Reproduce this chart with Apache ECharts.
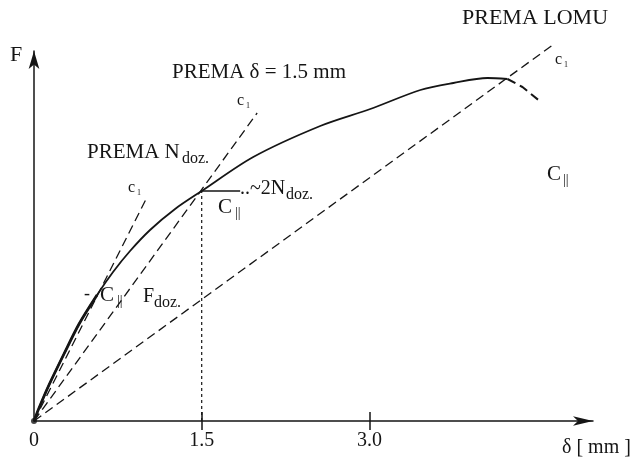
<!DOCTYPE html>
<html><head><meta charset="utf-8">
<script src="https://cdn.jsdelivr.net/npm/echarts@6/dist/echarts.min.js"></script>
<style>html,body{margin:0;padding:0;background:#fff}#c{width:638px;height:461px}</style>
</head><body><div id="c"></div>
<script>
// ---- data (delta in mm, F in arbitrary units) ----
const loadCurve = [[0,0],[0.045,0.13],[0.134,0.36],[0.268,0.67],[0.403,0.97],[0.564,1.26],[0.707,1.49],[0.859,1.70],[1.038,1.91],[1.262,2.12],[1.5,2.30],[1.961,2.64],[2.56,2.95],[3.008,3.12],[3.456,3.31],[3.751,3.38],[4.056,3.43],[4.235,3.42]];
const postPeak = [[4.235,3.42],[4.369,3.34],[4.512,3.21]];
const initialPart = loadCurve.slice(0,6);
const secantFdoz = [[0,0],[1.012,2.24]];
const secant15 = [[0,0],[1.996,3.08]];
const secantLom = [[0,0],[4.664,3.78]];
const ndozDrop = [[1.5,0],[1.5,2.30]];
const ndozLevel = [[1.5,2.30],[1.844,2.30]];
const xTickValues = [0,1.5,3.0];
const xTickLabels = ['0','1.5','3.0'];
const xMarkTicks = [1.5,3.0];

const ink = '#151515';
const serif = 'Liberation Serif';
const chart = echarts.init(document.getElementById('c'), null, {renderer:'canvas'});

function dashed(data, w){
  return {type:'line', data, showSymbol:false, symbol:'none', clip:false, silent:true,
    lineStyle:{color:ink, width:w||1.3, type:[9,5]}};
}
function txt(t, x, y, size){
  return {type:'text', left:x, top:y - size*0.6, silent:true,
    style:{text:t, fill:ink, font: size + 'px "' + serif + '"'}};
}
const texts = [
  txt('F', 10, 57, 22),
  txt('PREMA LOMU', 462, 20, 22),
  txt('PREMA \u03B4 = 1.5 mm', 172, 75, 21),
  txt('c', 237, 102, 16), txt('1', 246, 107, 8),
  txt('PREMA N', 87, 155, 21), txt('doz.', 182, 160, 16),
  txt('c', 128, 189, 16), txt('1', 137, 194, 8),
  txt('..~2N', 240, 191, 20), txt('doz.', 286, 196, 16),
  txt('C', 218, 210, 21), txt('||', 235, 215, 14),
  txt('-', 84, 296, 18), txt('C', 100, 298, 21), txt('||', 117, 303, 14),
  txt('F', 143, 299, 20), txt('doz.', 154, 304, 16),
  txt('C', 547, 177, 21), txt('||', 563, 182, 14),
  txt('c', 555, 61, 16), txt('1', 564, 66, 8),
  txt('\u03B4 [ mm ]', 562, 450, 20)
];

chart.setOption({
  animation:false,
  backgroundColor:'#fff',
  grid:{left:34, right:45, top:51, bottom:40},
  xAxis:[{
    type:'value', min:0, max:5.0, position:'bottom',
    axisLine:{show:true, onZero:false, symbol:['none','arrow'], symbolSize:[7,20], lineStyle:{color:ink, width:1.5}},
    axisTick:{show:true, customValues:xMarkTicks, length:9, lineStyle:{color:ink, width:1.5}},
    axisLabel:{show:true, customValues:xTickValues, formatter:(v)=>xTickLabels[xTickValues.indexOf(v)] || '', margin:10,
      fontFamily:serif, fontSize:20, color:ink},
    splitLine:{show:false}
  },{
    type:'value', min:0, max:5.0, position:'bottom', gridIndex:0,
    axisLine:{show:false},
    axisTick:{show:true, inside:true, customValues:xMarkTicks, length:9, lineStyle:{color:ink, width:1.5}},
    axisLabel:{show:false}, splitLine:{show:false}
  }],
  yAxis:{
    type:'value', min:0, max:3.7,
    axisLine:{show:true, onZero:false, symbol:['none','arrow'], symbolSize:[8,18], lineStyle:{color:ink, width:1.5}},
    axisTick:{show:false}, axisLabel:{show:false}, splitLine:{show:false}
  },
  series:[
    {type:'line', data:loadCurve, smooth:0.3, showSymbol:false, symbol:'none', clip:false, silent:true,
      lineStyle:{color:ink, width:1.8}},
    {type:'line', data:initialPart, smooth:0.3, showSymbol:false, symbol:'none', clip:false, silent:true,
      lineStyle:{color:ink, width:2.8}},
    dashed(postPeak, 2),
    dashed(secantFdoz),
    dashed(secant15),
    dashed(secantLom),
    {type:'line', data:ndozDrop, showSymbol:false, symbol:'none', clip:false, silent:true,
      lineStyle:{color:ink, width:1.2, type:[3,3]}},
    {type:'line', data:ndozLevel, showSymbol:false, symbol:'none', clip:false, silent:true,
      lineStyle:{color:ink, width:1.3}},
    {type:'scatter', data:[[0,0]], symbolSize:6, itemStyle:{color:ink}, silent:true, clip:false}
  ],
  graphic: texts
});
</script></body></html>
